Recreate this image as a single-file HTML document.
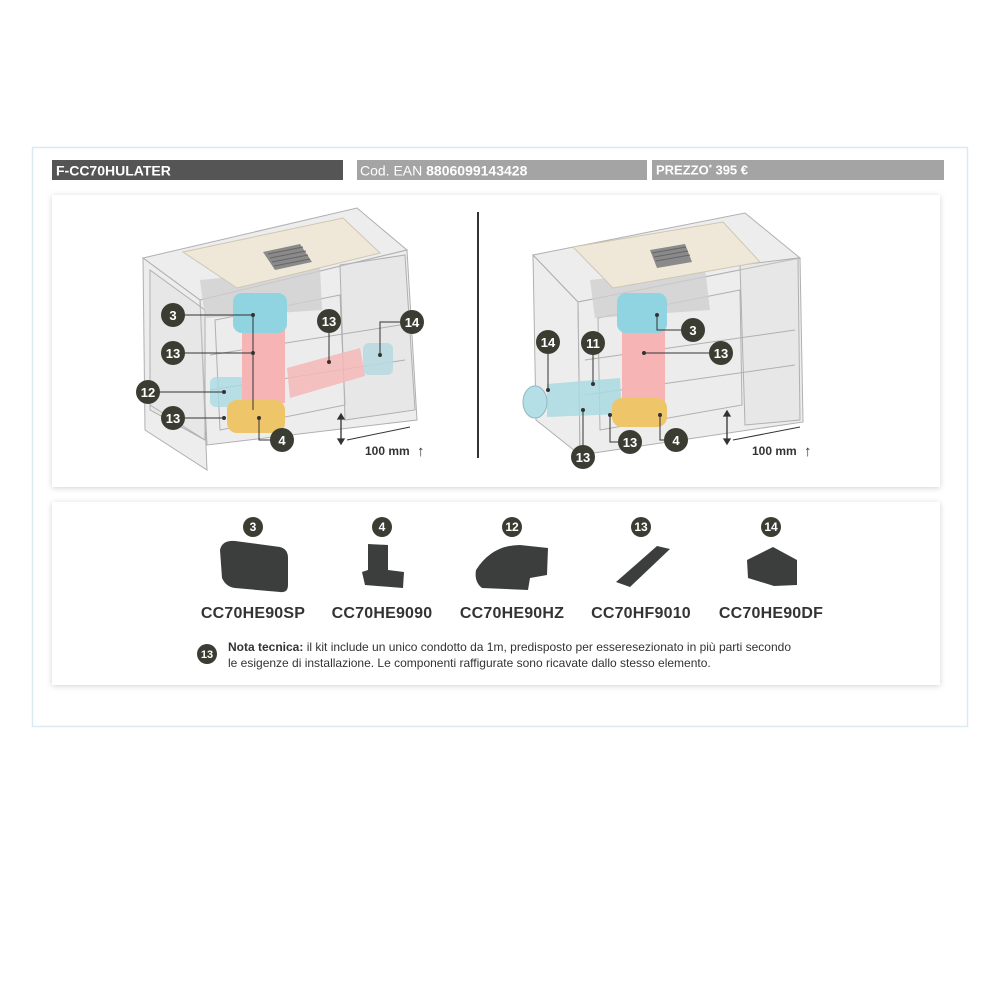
<!DOCTYPE html>
<html><head><meta charset="utf-8">
<style>
html,body{margin:0;padding:0;background:#fff;}
svg{display:block;font-family:"Liberation Sans",sans-serif;}
</style></head><body>
<svg width="1000" height="1000" viewBox="0 0 1000 1000" xmlns="http://www.w3.org/2000/svg">
<defs>
<filter id="sh" x="-5%" y="-5%" width="110%" height="115%"><feDropShadow dx="0" dy="1" stdDeviation="3" flood-color="#000" flood-opacity="0.18"/></filter>
<g id="b"><circle r="12" fill="#3b3d33"/></g>
</defs>
<rect width="1000" height="1000" fill="#fff"/>
<rect x="32.5" y="147.5" width="935" height="579" fill="#fff" stroke="#dbe9f2" stroke-width="1.5"/>
<!-- header -->
<rect x="52" y="160" width="291" height="20" fill="#555"/>
<text x="56" y="175.5" font-size="14" font-weight="bold" fill="#fff">F-CC70HULATER</text>
<rect x="357" y="160" width="290" height="20" fill="#a4a4a4"/>
<text x="360" y="175.5" font-size="14" fill="#fff">Cod. EAN <tspan font-weight="bold">8806099143428</tspan></text>
<rect x="652" y="160" width="292" height="20" fill="#a4a4a4"/>
<text x="656" y="174.5" font-size="13" font-weight="bold" fill="#fff">PREZZO<tspan font-size="8" dy="-4">*</tspan><tspan dy="4"> 395 €</tspan></text>
<!-- panels -->
<rect x="52" y="195" width="888" height="292" fill="#fff" filter="url(#sh)"/>
<rect x="52" y="502" width="888" height="183" fill="#fff" filter="url(#sh)"/>
<line x1="478" y1="212" x2="478" y2="458" stroke="#333" stroke-width="2"/>

<!-- LEFT CABINET -->
<g stroke="#b0b0b0" stroke-width="1" fill="#dcdcdc" fill-opacity="0.5">
<polygon points="143,258 357,208 407,250 200,300"/>
<polygon points="143,258 200,300 207,470 145,430"/>
<polygon points="200,300 407,250 417,420 207,445"/>
<polygon points="150,270 205,310 205,440 150,410" fill-opacity="0.3"/>
<polygon points="340,265 405,255 415,410 345,420" fill-opacity="0.35"/>
<polygon points="215,320 340,295 345,405 220,430" fill="#eaeaea" fill-opacity="0.4"/>
<line x1="210" y1="355" x2="400" y2="325"/>
<line x1="210" y1="390" x2="405" y2="360"/>
<line x1="150" y1="405" x2="205" y2="440"/>
</g>
<polygon points="200,280 320,268 322,310 205,318" fill="#cfcfcf" opacity="0.8"/>
<polygon points="183,252 343,218 380,253 237,288" fill="#efe8d9" stroke="#cfc6b3"/>
<polygon points="263,252 300,244 312,262 275,270" fill="#8a8a8a"/>
<g stroke="#666" stroke-width="1"><line x1="268" y1="254" x2="303" y2="247"/><line x1="270" y1="258" x2="306" y2="251"/><line x1="272" y1="262" x2="308" y2="255"/><line x1="274" y1="266" x2="310" y2="259"/></g>
<polygon points="287,368 360,348 365,376 290,398" fill="#f5b7b7" opacity="0.85"/>
<rect x="363" y="343" width="30" height="32" rx="6" fill="#b8d9df" opacity="0.9"/>
<rect x="210" y="377" width="35" height="30" rx="6" fill="#a9dbe2" opacity="0.8"/>
<rect x="242" y="330" width="43" height="73" fill="#f6b4b4"/>
<rect x="227" y="400" width="58" height="33" rx="10" fill="#eec568"/>
<rect x="233" y="293" width="54" height="40" rx="9" fill="#8fd4e0"/>
<!-- left badges/lines -->
<g stroke="#333" stroke-width="1" fill="none">
<polyline points="173,315 253,315"/><polyline points="173,353 253,353"/>
<polyline points="148,392 224,392"/><polyline points="173,418 224,418"/>
<polyline points="259,418 259,440 282,440"/>
<polyline points="329,321 329,362"/>
<polyline points="412,322 380,322 380,355"/>
<line x1="253" y1="315" x2="253" y2="410"/>
</g>
<g fill="#333"><circle cx="253" cy="315" r="2"/><circle cx="253" cy="353" r="2"/><circle cx="224" cy="392" r="2"/><circle cx="224" cy="418" r="2"/><circle cx="259" cy="418" r="2"/><circle cx="329" cy="362" r="2"/><circle cx="380" cy="355" r="2"/></g>
<g font-size="13" font-weight="bold" fill="#fff" text-anchor="middle">
<use href="#b" x="173" y="315"/><text x="173" y="320">3</text>
<use href="#b" x="173" y="353"/><text x="173" y="358">13</text>
<use href="#b" x="148" y="392"/><text x="148" y="397">12</text>
<use href="#b" x="173" y="418"/><text x="173" y="423">13</text>
<use href="#b" x="282" y="440"/><text x="282" y="445">4</text>
<use href="#b" x="329" y="321"/><text x="329" y="326">13</text>
<use href="#b" x="412" y="322"/><text x="412" y="327">14</text>
</g>
<g stroke="#333" stroke-width="1.3" fill="#333">
<line x1="341" y1="417" x2="341" y2="441"/>
<polygon points="338,419 344,419 341,414"/><polygon points="338,439 344,439 341,444"/>
<line x1="347" y1="440" x2="410" y2="427" stroke-width="1"/>
</g>
<text x="365" y="455" font-size="12" font-weight="bold" fill="#333">100 mm</text>
<text x="417" y="456" font-size="15" font-weight="bold" fill="#333">↑</text>

<!-- RIGHT CABINET -->
<g stroke="#b0b0b0" stroke-width="1" fill="#dcdcdc" fill-opacity="0.5">
<polygon points="533,255 745,213 800,258 578,302"/>
<polygon points="533,255 578,302 580,455 536,420"/>
<polygon points="578,302 800,258 803,422 580,455"/>
<polygon points="740,265 798,258 800,420 745,425" fill-opacity="0.35"/>
<polygon points="598,318 740,290 742,405 600,430" fill="#eaeaea" fill-opacity="0.4"/>
<line x1="585" y1="360" x2="795" y2="330"/>
<line x1="585" y1="395" x2="795" y2="365"/>
</g>
<polygon points="590,280 705,268 710,310 595,318" fill="#cfcfcf" opacity="0.8"/>
<polygon points="573,247 723,222 760,262 613,288" fill="#efe8d9" stroke="#cfc6b3"/>
<polygon points="650,250 685,244 692,262 657,268" fill="#8a8a8a"/>
<g stroke="#666" stroke-width="1"><line x1="652" y1="253" x2="686" y2="247"/><line x1="654" y1="257" x2="688" y2="251"/><line x1="656" y1="261" x2="690" y2="255"/></g>
<polygon points="547,384 620,378 622,414 547,417" fill="#a9dbe2" opacity="0.85"/>
<ellipse cx="535" cy="402" rx="12" ry="16" fill="#b5dfe6" stroke="#8fb8c0"/>
<rect x="622" y="330" width="43" height="72" fill="#f6b4b4"/>
<rect x="612" y="398" width="55" height="29" rx="10" fill="#eec568"/>
<rect x="617" y="293" width="50" height="40" rx="9" fill="#8fd4e0"/>
<g stroke="#333" stroke-width="1" fill="none">
<polyline points="657,315 657,330 693,330"/>
<polyline points="644,353 721,353"/>
<polyline points="548,342 548,390"/>
<polyline points="593,343 593,384"/>
<polyline points="583,457 583,410"/>
<polyline points="610,415 610,442 630,442"/>
<polyline points="660,415 660,440 676,440"/>
</g>
<g fill="#333"><circle cx="657" cy="315" r="2"/><circle cx="644" cy="353" r="2"/><circle cx="548" cy="390" r="2"/><circle cx="593" cy="384" r="2"/><circle cx="583" cy="410" r="2"/><circle cx="610" cy="415" r="2"/><circle cx="660" cy="415" r="2"/></g>
<g font-size="13" font-weight="bold" fill="#fff" text-anchor="middle">
<use href="#b" x="693" y="330"/><text x="693" y="335">3</text>
<use href="#b" x="721" y="353"/><text x="721" y="358">13</text>
<use href="#b" x="548" y="342"/><text x="548" y="347">14</text>
<use href="#b" x="593" y="343"/><text x="593" y="348">11</text>
<use href="#b" x="583" y="457"/><text x="583" y="462">13</text>
<use href="#b" x="630" y="442"/><text x="630" y="447">13</text>
<use href="#b" x="676" y="440"/><text x="676" y="445">4</text>
</g>
<g stroke="#333" stroke-width="1.3" fill="#333">
<line x1="727" y1="414" x2="727" y2="441"/>
<polygon points="724,416 730,416 727,411"/><polygon points="724,439 730,439 727,444"/>
<line x1="733" y1="440" x2="800" y2="427" stroke-width="1"/>
</g>
<text x="752" y="455" font-size="12" font-weight="bold" fill="#333">100 mm</text>
<text x="804" y="456" font-size="15" font-weight="bold" fill="#333">↑</text>

<!-- BOTTOM PARTS -->
<g font-size="12" font-weight="bold" fill="#fff" text-anchor="middle">
<circle cx="253" cy="527" r="10" fill="#3b3d33"/><text x="253" y="531">3</text>
<circle cx="382" cy="527" r="10" fill="#3b3d33"/><text x="382" y="531">4</text>
<circle cx="512" cy="527" r="10" fill="#3b3d33"/><text x="512" y="531">12</text>
<circle cx="641" cy="527" r="10" fill="#3b3d33"/><text x="641" y="531">13</text>
<circle cx="771" cy="527" r="10" fill="#3b3d33"/><text x="771" y="531">14</text>
</g>
<g fill="#3c3e3d">
<path d="M220,550 Q222,540 235,541 L280,547 Q288,549 288,558 L288,585 Q288,593 280,592 L235,588 Q226,587 222,578 Z"/>
<path d="M368,544 L388,545 L388,570 L404,572 L403,588 L365,585 L362,572 L368,570 Z"/>
<path d="M476,570 Q492,545 520,545 L548,548 L547,575 L530,578 L528,590 L482,588 Q474,582 476,570 Z"/>
<polygon points="616,582 657,546 670,549 630,587"/>
<path d="M747,560 L773,547 L797,560 L797,585 L774,586 L748,578 Z"/>
</g>
<g font-size="16" font-weight="bold" fill="#333" text-anchor="middle" letter-spacing="0.2">
<text x="253" y="618">CC70HE90SP</text>
<text x="382" y="618">CC70HE9090</text>
<text x="512" y="618">CC70HE90HZ</text>
<text x="641" y="618">CC70HF9010</text>
<text x="771" y="618">CC70HE90DF</text>
</g>
<circle cx="207" cy="654" r="10" fill="#3b3d33"/>
<text x="207" y="658" font-size="11" font-weight="bold" fill="#fff" text-anchor="middle">13</text>
<text x="228" y="651" font-size="12" fill="#333"><tspan font-weight="bold">Nota tecnica:</tspan> il kit include un unico condotto da 1m, predisposto per esseresezionato in più parti secondo</text>
<text x="228" y="667" font-size="12" fill="#333">le esigenze di installazione. Le componenti raffigurate sono ricavate dallo stesso elemento.</text>
</svg>
</body></html>
